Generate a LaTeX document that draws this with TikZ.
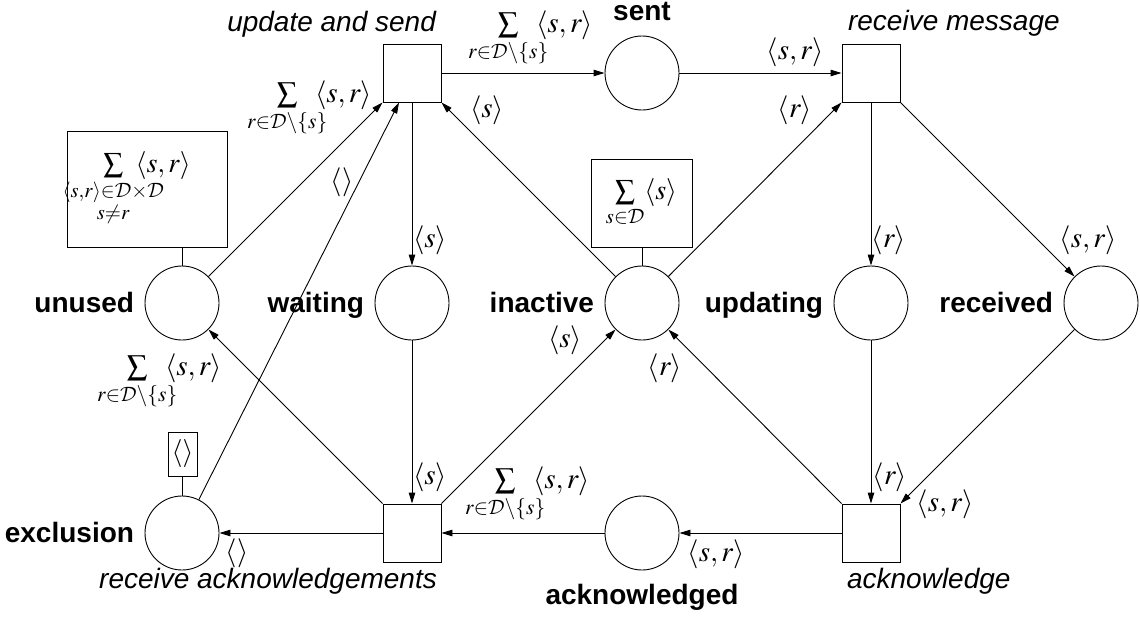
\documentclass[tikz,border=0pt]{standalone}
\usepackage{mathptmx}
\usepackage{mathtools}
\usepackage{fontspec}
\setmainfont{Liberation Sans}
\DeclareMathAlphabet{\mathcal}{OMS}{lmsy}{m}{n}
\usetikzlibrary{arrows.meta}

% arc inscription: sum over all receivers except the sender
\newcommand{\sumrs}{\sum\limits_{\mathclap{r\in\mathcal{D}\setminus\{s\}}}\mkern11mu\langle s,r\rangle}

\begin{document}
\begin{tikzpicture}[x=1pt,y=-1pt,
  every node/.style={font=\fontsize{28}{32}\selectfont},
  place/.style={draw, circle, minimum size=74pt, inner sep=0pt, line width=0.9pt},
  transition/.style={draw, rectangle, minimum size=58pt, inner sep=0pt, line width=0.9pt},
  initmark/.style={draw, rectangle, inner sep=0pt, line width=0.9pt},
  pname/.style={font=\fontsize{28}{32}\selectfont\bfseries},
  tname/.style={font=\fontsize{28}{32}\selectfont\itshape},
  insc/.style={inner sep=0pt, font=\fontsize{29}{33}\selectfont},
  flow/.style={-{Triangle[length=11pt,width=6.5pt]}, line width=0.9pt},
  link/.style={line width=0.9pt}]

\useasboundingbox (0,0) rectangle (1140,619);

% places
\node[place] (sent)      at (642,73)  {};
\node[place] (unused)    at (182,303) {};
\node[place] (waiting)   at (412,303) {};
\node[place] (inactive)  at (642,303) {};
\node[place] (updating)  at (871,303) {};
\node[place] (received)  at (1101,303) {};
\node[place] (exclusion) at (182,533) {};
\node[place] (acked)     at (642,533) {};

% transitions
\node[transition] (upd)   at (412,73)  {};
\node[transition] (rcvm)  at (871,73)  {};
\node[transition] (racks) at (412,533) {};
\node[transition] (ackn)  at (871,533) {};

% place names
\node[pname, anchor=base] (nSent) at ([yshift=15pt]sent.north) {sent};
\node[pname, anchor=base east] (nUnused) at ([xshift=-7pt,yshift=-9pt]unused.west) {unused};
\node[pname, anchor=base east] (nWaiting) at ([xshift=-7pt,yshift=-9pt]waiting.west) {waiting};
\node[pname, anchor=base east] (nInactive) at ([xshift=-7pt,yshift=-9pt]inactive.west) {inactive};
\node[pname, anchor=base east] (nUpdating) at ([xshift=-7pt,yshift=-9pt]updating.west) {updating};
\node[pname, anchor=base east] (nReceived) at ([xshift=-7pt,yshift=-9pt]received.west) {received};
\node[pname, anchor=base east] (nExclusion) at ([xshift=-7pt,yshift=-9pt]exclusion.west) {exclusion};
\node[pname, anchor=base] (nAcked) at ([yshift=-34pt]acked.south) {acknowledged};

% transition names
\node[tname, anchor=base east] (nUpd) at ([xshift=-2pt,yshift=12pt]upd.north east) {update and send};
\node[tname, anchor=base west] (nRcvm) at ([xshift=3pt,yshift=13pt]rcvm.north west) {receive message};
\node[tname, anchor=base east] (nRacks) at ([xshift=-1pt,yshift=-26pt]racks.south east) {receive acknowledgements};
\node[tname, anchor=base west] (nAckn) at ([xshift=2pt,yshift=-26pt]ackn.south west) {acknowledge};

% initial markings
\node[initmark, minimum width=160pt, minimum height=116pt] (mU) at (147,189)
  {$\sum\limits_{\mathclap{\substack{\langle s,r\rangle\in\mathcal{D}\times\mathcal{D}\\ s\neq r}}}\mkern8mu\langle s,r\rangle$};
\draw[link] (unused.north) -- (unused.north |- mU.south);
\node[initmark, minimum width=101pt, minimum height=88pt] (mI) at (641.5,203)
  {$\sum\limits_{s\in\mathcal{D}}\langle s\rangle$};
\draw[link] (inactive.north) -- (inactive.north |- mI.south);
\node[initmark, minimum width=29pt, minimum height=44pt] (mE) at (182.5,454)
  {$\langle\rangle$};
\draw[link] (exclusion.north) -- (exclusion.north |- mE.south);

% arcs
\draw[flow] (upd) -- (sent);
\draw[flow] (sent) -- (rcvm);
\draw[flow] (rcvm) -- (updating);
\draw[flow] (rcvm.south east) -- (received);
\draw[flow] (upd) -- (waiting);
\draw[flow] (inactive) -- (upd.south east);
\draw[flow] (inactive) -- (rcvm.south west);
\draw[flow] (unused) -- (upd.south west);
\draw[flow] (exclusion) -- ([xshift=-13pt]upd.south);
\draw[flow] (waiting) -- (racks);
\draw[flow] (racks.north west) -- (unused);
\draw[flow] (racks.north east) -- (inactive);
\draw[flow] (racks) -- (exclusion);
\draw[flow] (acked) -- (racks);
\draw[flow] (ackn) -- (acked);
\draw[flow] (ackn.north west) -- (inactive);
\draw[flow] (updating) -- (ackn);
\draw[flow] (received) -- (ackn.north east);

% arc inscriptions
\node[insc] (iUpdSent)   at (545.5,39)  {$\sumrs$};
\node[insc] (iSentRcv)   at (795,52)    {$\langle s,r\rangle$};
\node[insc] (iRcvUpd)    at (889,240)   {$\langle r\rangle$};
\node[insc] (iRcvRec)    at (1088,240)  {$\langle s,r\rangle$};
\node[insc] (iUpdWait)   at (430,240)   {$\langle s\rangle$};
\node[insc] (iInaUpd)    at (487,110)   {$\langle s\rangle$};
\node[insc] (iInaRcv)    at (795,110)   {$\langle r\rangle$};
\node[insc] (iUnuUpd)    at (324.5,108.5) {$\sumrs$};
\node[insc] (iExcUpd)    at (342,182)   {$\langle\rangle$};
\node[insc] (iWaitAcks)  at (430,477)   {$\langle s\rangle$};
\node[insc] (iAcksUnu)   at (174.5,381.5) {$\sumrs$};
\node[insc] (iAcksIna)   at (565,340)   {$\langle s\rangle$};
\node[insc] (iAcksExc)   at (237,553)   {$\langle\rangle$};
\node[insc] (iAckdAcks)  at (542.5,495) {$\sumrs$};
\node[insc] (iAcknAckd)  at (716,554)   {$\langle s,r\rangle$};
\node[insc] (iAcknIna)   at (665,368)   {$\langle r\rangle$};
\node[insc] (iUpdAckn)   at (890,477)   {$\langle r\rangle$};
\node[insc] (iRecAckn)   at (945,504)   {$\langle s,r\rangle$};
\end{tikzpicture}
\end{document}
